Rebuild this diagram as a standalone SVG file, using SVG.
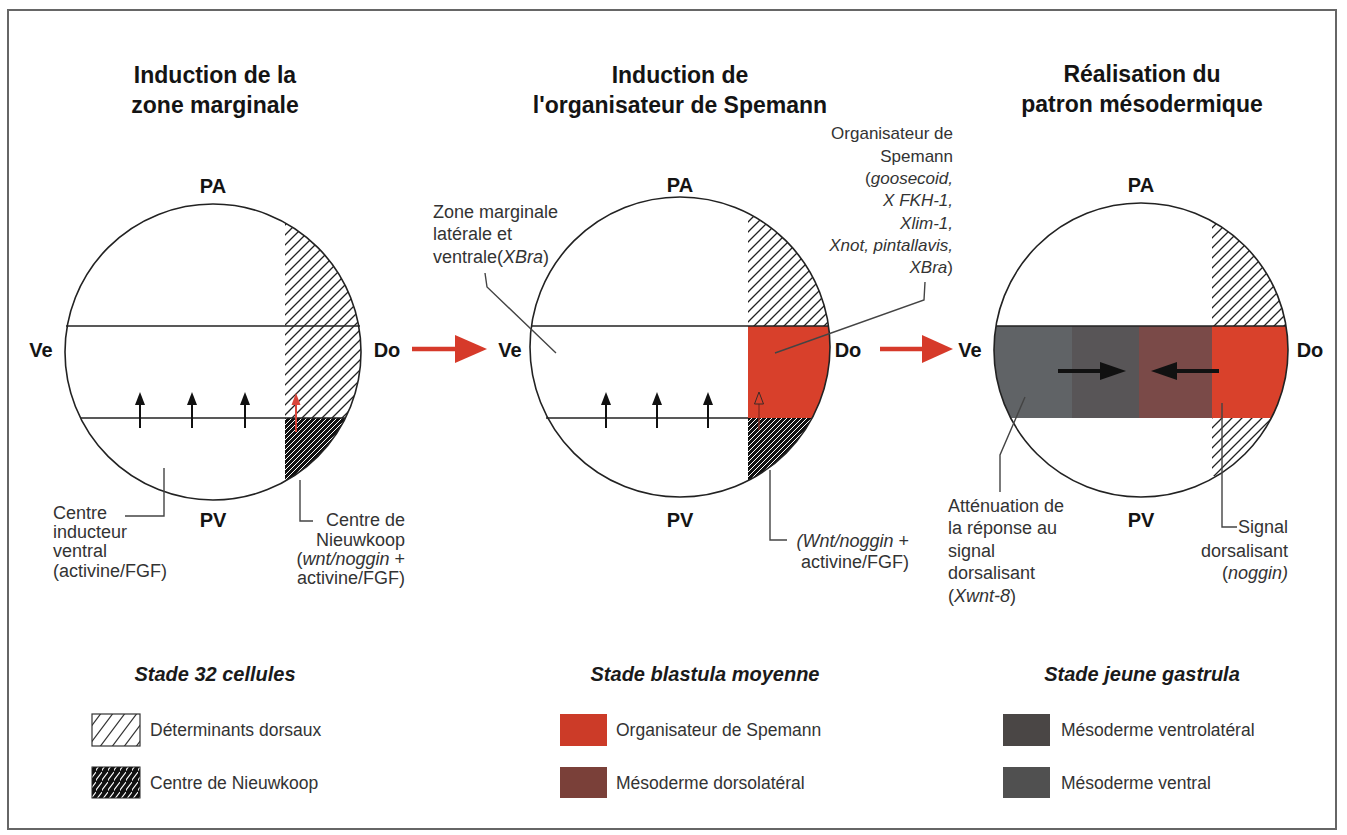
<svg xmlns="http://www.w3.org/2000/svg" width="1347" height="835" viewBox="0 0 1347 835">
<style>
.title{font-family:"Liberation Sans",Arial,sans-serif;font-weight:bold;font-size:23px;fill:#141414;text-anchor:middle}
.pole{font-family:"Liberation Sans",Arial,sans-serif;font-weight:bold;font-size:20px;fill:#141414;text-anchor:middle}
.lab{font-family:"Liberation Sans",Arial,sans-serif;font-size:18px;fill:#333}
.lab17{font-family:"Liberation Sans",Arial,sans-serif;font-size:17px;fill:#333}
.it{font-style:italic}
.head{font-family:"Liberation Sans",Arial,sans-serif;font-weight:bold;font-style:italic;font-size:20px;fill:#1a1a1a;text-anchor:middle}
.leg{font-family:"Liberation Sans",Arial,sans-serif;font-size:17.5px;fill:#333}
.circ{fill:none;stroke:#222;stroke-width:1.6}
.chord{stroke:#222;stroke-width:1.5}
.leader{fill:none;stroke:#444;stroke-width:1.4}
.arr{stroke:#111;stroke-width:2}
.ah{fill:#111}
</style>
<defs>
<pattern id="hatch" patternUnits="userSpaceOnUse" width="10" height="10">
<path d="M-1,1 L1,-1 M0,10 L10,0 M9,11 L11,9" stroke="#222" stroke-width="1.3"/>
</pattern>
<pattern id="nieuw" patternUnits="userSpaceOnUse" width="5" height="5">
<rect width="5" height="5" fill="#111"/>
<path d="M-1,1 L1,-1 M0,5 L5,0 M4,6 L6,4" stroke="#fff" stroke-width="1"/>
</pattern>
<pattern id="hatchL" patternUnits="userSpaceOnUse" width="12" height="16">
<path d="M0,16 L12,0 M-3,4 L3,-4 M9,20 L15,12" stroke="#333" stroke-width="1.2"/>
</pattern>
<pattern id="nieuwL" patternUnits="userSpaceOnUse" width="6" height="10">
<rect width="6" height="10" fill="#111"/>
<path d="M0,10 L6,2 M-2,3 L1,-1 M5,13 L8,9" stroke="#fff" stroke-width="1.1"/>
</pattern>
<clipPath id="c1"><circle cx="213" cy="352" r="148"/></clipPath>
<clipPath id="c2"><circle cx="680" cy="347" r="150"/></clipPath>
<clipPath id="c3"><circle cx="1141" cy="350" r="147"/></clipPath>
</defs>
<rect x="0" y="0" width="1347" height="835" fill="#fff"/>
<rect x="8" y="10" width="1328" height="819" fill="none" stroke="#666" stroke-width="2"/>

<g id="titles">
<text class="title" x="215" y="83">Induction de la</text>
<text class="title" x="215" y="113">zone marginale</text>
<text class="title" x="680" y="83">Induction de</text>
<text class="title" x="680" y="113">l'organisateur de Spemann</text>
<text class="title" x="1142" y="82">Réalisation du</text>
<text class="title" x="1142" y="112">patron mésodermique</text>
</g>

<g id="circle1">
<g clip-path="url(#c1)">
<rect x="285" y="195" width="85" height="223" fill="url(#hatch)"/>
<rect x="285" y="418" width="85" height="90" fill="url(#nieuw)"/>
</g>
<circle class="circ" cx="213" cy="352" r="148"/>
<line class="chord" x1="66" y1="326" x2="360" y2="326"/>
<line class="chord" x1="81" y1="418" x2="345" y2="418"/>
<line class="arr" x1="140" y1="428" x2="140" y2="402"/>
<path class="ah" d="M135,405 L140,392 L145,405 Z"/>
<line class="arr" x1="192" y1="428" x2="192" y2="402"/>
<path class="ah" d="M187,405 L192,392 L197,405 Z"/>
<line class="arr" x1="245" y1="428" x2="245" y2="402"/>
<path class="ah" d="M240,405 L245,392 L250,405 Z"/>
<line x1="296" y1="432" x2="296" y2="404" stroke="#d9443a" stroke-width="2"/>
<path d="M291.5,405 L296,393 L300.5,405 Z" fill="#d9443a"/>
<text class="pole" x="213" y="193">PA</text>
<text class="pole" x="213" y="527">PV</text>
<text class="pole" x="41" y="357">Ve</text>
<text class="pole" x="387" y="357">Do</text>
</g>

<g id="circle2">
<g clip-path="url(#c2)">
<rect x="748" y="190" width="90" height="136" fill="url(#hatch)"/>
<rect x="748" y="326" width="90" height="92" fill="#d8402b"/>
<rect x="748" y="418" width="90" height="90" fill="url(#nieuw)"/>
</g>
<circle class="circ" cx="680" cy="347" r="150"/>
<line class="chord" x1="531" y1="326" x2="829" y2="326"/>
<line class="chord" x1="546" y1="418" x2="748" y2="418"/>
<line class="arr" x1="606" y1="428" x2="606" y2="402"/>
<path class="ah" d="M601,405 L606,392 L611,405 Z"/>
<line class="arr" x1="657" y1="428" x2="657" y2="402"/>
<path class="ah" d="M652,405 L657,392 L662,405 Z"/>
<line class="arr" x1="708" y1="428" x2="708" y2="402"/>
<path class="ah" d="M703,405 L708,392 L713,405 Z"/>
<line x1="759" y1="430" x2="759" y2="404" stroke="#8a2a20" stroke-width="1.3"/>
<path d="M754.5,404 L759,392 L763.5,404 Z" fill="none" stroke="#3a2a28" stroke-width="1"/>
<text class="pole" x="680" y="192">PA</text>
<text class="pole" x="680" y="527">PV</text>
<text class="pole" x="510" y="357">Ve</text>
<text class="pole" x="848" y="357">Do</text>
</g>

<g id="circle3">
<g clip-path="url(#c3)">
<rect x="1212" y="195" width="80" height="131" fill="url(#hatch)"/>
<rect x="1212" y="418" width="80" height="58" fill="url(#hatch)"/>
<rect x="990" y="326" width="82" height="92" fill="#606366"/>
<rect x="1072" y="326" width="67" height="92" fill="#585557"/>
<rect x="1139" y="326" width="73" height="92" fill="#7a4a48"/>
<rect x="1212" y="326" width="80" height="92" fill="#d9412b"/>
</g>
<circle class="circ" cx="1141" cy="350" r="147"/>
<line class="chord" x1="996" y1="326" x2="1286" y2="326"/>
<line x1="1058" y1="371" x2="1105" y2="371" stroke="#111" stroke-width="4"/>
<path d="M1100,362 L1126,371 L1100,380 Z" fill="#111"/>
<line x1="1219" y1="371" x2="1172" y2="371" stroke="#111" stroke-width="4"/>
<path d="M1177,362 L1151,371 L1177,380 Z" fill="#111"/>
<text class="pole" x="1141" y="192">PA</text>
<text class="pole" x="1141" y="527">PV</text>
<text class="pole" x="970" y="357">Ve</text>
<text class="pole" x="1310" y="357">Do</text>
</g>

<g id="connectors">
<line x1="412" y1="349" x2="460" y2="349" stroke="#d63a2a" stroke-width="4.5"/>
<path d="M455,335 L487,349 L455,363 Z" fill="#d63a2a"/>
<line x1="880" y1="349" x2="928" y2="349" stroke="#d63a2a" stroke-width="4.5"/>
<path d="M922,335 L953,349 L922,363 Z" fill="#d63a2a"/>
<polyline class="leader" points="125,516 164,516 164,468"/>
<polyline class="leader" points="300,480 300,521 313,521"/>
<polyline class="leader" points="485,273 487,287 556,353"/>
<polyline class="leader" points="925,282 924,300 775,353"/>
<polyline class="leader" points="770,470 770,540 787,540"/>
<polyline class="leader" points="1000,492 1000,455 1025,397"/>
<polyline class="leader" points="1222,403 1222,527 1237,527"/>
</g>

<g id="labels">
<text class="lab" x="53"><tspan x="53" y="519">Centre</tspan><tspan x="53" y="538">inducteur</tspan><tspan x="53" y="557">ventral</tspan><tspan x="53" y="577">(activine/FGF)</tspan></text>
<text class="lab" text-anchor="end"><tspan x="405" y="526">Centre de</tspan><tspan x="405" y="546">Nieuwkoop</tspan><tspan x="405" y="565">(<tspan class="it">wnt/noggin</tspan> +</tspan><tspan x="405" y="584">activine/FGF)</tspan></text>
<text class="lab"><tspan x="433" y="218">Zone marginale</tspan><tspan x="433" y="240">latérale et</tspan><tspan x="433" y="263">ventrale(<tspan class="it">XBra</tspan>)</tspan></text>
<text class="lab17" text-anchor="end"><tspan x="953" y="139">Organisateur de</tspan><tspan x="953" y="162">Spemann</tspan><tspan x="953" y="184">(<tspan class="it">goosecoid,</tspan></tspan><tspan x="953" y="206" class="it">X FKH-1,</tspan><tspan x="953" y="229" class="it">Xlim-1,</tspan><tspan x="953" y="251" class="it">Xnot, pintallavis,</tspan><tspan x="953" y="273"><tspan class="it">XBra</tspan>)</tspan></text>
<text class="lab" text-anchor="end"><tspan x="909" y="547"><tspan class="it">(Wnt/noggin</tspan> +</tspan><tspan x="909" y="568">activine/FGF)</tspan></text>
<text class="lab"><tspan x="948" y="512">Atténuation de</tspan><tspan x="948" y="534">la réponse au</tspan><tspan x="948" y="557">signal</tspan><tspan x="948" y="579">dorsalisant</tspan><tspan x="948" y="602">(<tspan class="it">Xwnt-8</tspan>)</tspan></text>
<text class="lab" text-anchor="end"><tspan x="1288" y="533">Signal</tspan><tspan x="1288" y="557">dorsalisant</tspan><tspan x="1288" y="579">(<tspan class="it">noggin)</tspan></tspan></text>
</g>

<g id="legend">
<text class="head" x="215" y="681">Stade 32 cellules</text>
<text class="head" x="705" y="681">Stade blastula moyenne</text>
<text class="head" x="1142" y="681">Stade jeune gastrula</text>
<rect x="92" y="714" width="48" height="32" fill="url(#hatchL)" stroke="#333" stroke-width="1.2"/>
<text class="leg" x="150" y="736">Déterminants dorsaux</text>
<rect x="92" y="767" width="48" height="31" fill="url(#nieuwL)" stroke="#222" stroke-width="1"/>
<text class="leg" x="150" y="789">Centre de Nieuwkoop</text>
<rect x="560" y="714" width="47" height="32" fill="#cc3b28"/>
<text class="leg" x="616" y="736">Organisateur de Spemann</text>
<rect x="560" y="767" width="47" height="31" fill="#7a4039"/>
<text class="leg" x="616" y="789">Mésoderme dorsolatéral</text>
<rect x="1003" y="714" width="47" height="32" fill="#4a4645"/>
<text class="leg" x="1061" y="736">Mésoderme ventrolatéral</text>
<rect x="1003" y="767" width="47" height="31" fill="#505050"/>
<text class="leg" x="1061" y="789">Mésoderme ventral</text>
</g>
</svg>
